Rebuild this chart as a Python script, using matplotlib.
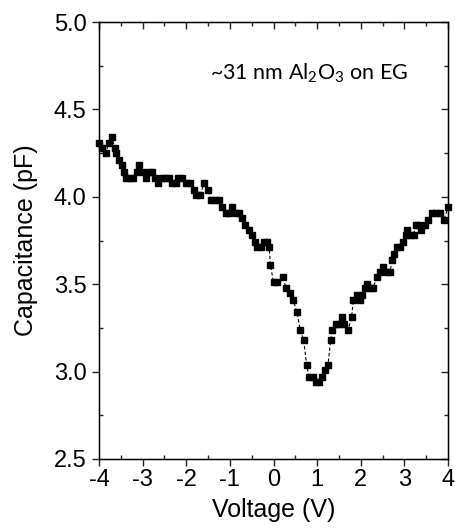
import matplotlib
matplotlib.use('Agg')
import matplotlib.pyplot as plt
from matplotlib.ticker import MultipleLocator

voltage = [-4.00, -3.92, -3.85, -3.77, -3.70, -3.64, -3.60, -3.54, -3.48, -3.43,
           -3.37, -3.30, -3.22, -3.14, -3.08, -3.00, -2.92, -2.85, -2.79, -2.72,
           -2.64, -2.56, -2.48, -2.40, -2.32, -2.24, -2.18, -2.10, -2.01, -1.91,
           -1.82, -1.77, -1.68, -1.59, -1.50, -1.43, -1.34, -1.25, -1.17, -1.10,
           -1.02, -0.94, -0.86, -0.78, -0.72, -0.65, -0.57, -0.50, -0.42, -0.37,
           -0.29, -0.22, -0.15, -0.10, -0.07, 0.00, 0.08, 0.21, 0.29, 0.37,
           0.45, 0.54, 0.61, 0.69, 0.76, 0.81, 0.91, 0.98, 1.04, 1.12,
           1.18, 1.25, 1.31, 1.35, 1.43, 1.50, 1.57, 1.62, 1.71, 1.79,
           1.83, 1.91, 1.98, 2.03, 2.09, 2.14, 2.21, 2.28, 2.37, 2.44,
           2.52, 2.60, 2.67, 2.72, 2.76, 2.83, 2.90, 2.97, 3.03, 3.06,
           3.13, 3.21, 3.26, 3.32, 3.38, 3.47, 3.55, 3.63, 3.72, 3.82,
           3.91, 4.00]
capacitance = [4.31, 4.28, 4.25, 4.31, 4.34, 4.28, 4.25, 4.21, 4.18, 4.14,
               4.11, 4.11, 4.11, 4.14, 4.18, 4.14, 4.11, 4.14, 4.14, 4.11,
               4.08, 4.11, 4.11, 4.11, 4.08, 4.08, 4.11, 4.11, 4.08, 4.08,
               4.04, 4.01, 4.01, 4.08, 4.04, 3.98, 3.98, 3.98, 3.94, 3.91,
               3.91, 3.94, 3.91, 3.91, 3.88, 3.84, 3.81, 3.78, 3.74, 3.71,
               3.71, 3.74, 3.74, 3.71, 3.61, 3.51, 3.51, 3.54, 3.48, 3.45,
               3.41, 3.34, 3.24, 3.18, 3.04, 2.97, 2.97, 2.94, 2.94, 2.97,
               3.01, 3.04, 3.18, 3.24, 3.27, 3.27, 3.31, 3.27, 3.24, 3.31,
               3.41, 3.44, 3.41, 3.44, 3.48, 3.50, 3.48, 3.48, 3.54, 3.57,
               3.60, 3.57, 3.57, 3.64, 3.67, 3.71, 3.71, 3.74, 3.78, 3.81,
               3.78, 3.78, 3.84, 3.84, 3.81, 3.84, 3.87, 3.91, 3.91, 3.91,
               3.87, 3.94]

plt.rcParams['font.family'] = ['Liberation Sans', 'DejaVu Sans']
plt.rcParams['axes.unicode_minus'] = False
plt.rcParams['mathtext.fontset'] = 'custom'
plt.rcParams['mathtext.rm'] = 'Lato'
plt.rcParams['mathtext.it'] = 'Lato:italic'
plt.rcParams['mathtext.bf'] = 'Lato:bold'

fig = plt.figure(figsize=(4.56, 5.28), dpi=100)
ax = fig.add_axes([0.2171, 0.1307, 0.7654, 0.8276])

ax.plot(voltage, capacitance, color='black', linestyle=(0, (3, 2)), linewidth=0.8,
        marker='s', markersize=4.6, markerfacecolor='black', markeredgecolor='black',
        clip_on=False)

ax.set_xlim(-4, 4)
ax.set_ylim(2.5, 5.0)
ax.xaxis.set_major_locator(MultipleLocator(1))
ax.xaxis.set_minor_locator(MultipleLocator(0.5))
ax.yaxis.set_major_locator(MultipleLocator(0.5))
ax.yaxis.set_minor_locator(MultipleLocator(0.25))
ax.yaxis.set_major_formatter(plt.FormatStrFormatter('%.1f'))

for s in ax.spines.values():
    s.set_linewidth(1.0)
    s.set_color('#222222')

ax.tick_params(which='major', direction='out', length=5, width=1, labelsize=17,
               colors='#222222', labelcolor='black')
ax.tick_params(axis='y', which='major', pad=4)
ax.tick_params(axis='x', which='major', pad=2)
ax.tick_params(which='minor', direction='in', length=3, width=1, colors='#222222')

# inward ticks on the top and right sides
ax2 = ax.twinx()
ax2.set_ylim(ax.get_ylim())
ax2.yaxis.set_major_locator(MultipleLocator(0.5))
ax2.yaxis.set_minor_locator(MultipleLocator(0.25))
ax2.tick_params(which='both', direction='in', labelright=False, width=1, colors='#222222')
ax2.tick_params(which='major', length=5)
ax2.tick_params(which='minor', length=3)
ax3 = ax.twiny()
ax3.set_xlim(ax.get_xlim())
ax3.xaxis.set_major_locator(MultipleLocator(1))
ax3.xaxis.set_minor_locator(MultipleLocator(0.5))
ax3.tick_params(which='both', direction='in', labeltop=False, width=1, colors='#222222')
ax3.tick_params(which='major', length=5)
ax3.tick_params(which='minor', length=3)

ax.set_xlabel('Voltage (V)', fontsize=18, labelpad=5)
ax.set_ylabel('Capacitance (pF)', fontsize=18, labelpad=11)

ax.text(-1.45, 4.668, r'~31 nm Al$\mathregular{_2}$O$\mathregular{_3}$ on EG', fontsize=15.5,
        family=['Lato', 'DejaVu Sans'], ha='left', va='baseline')

fig.savefig('out.png', dpi=100)
